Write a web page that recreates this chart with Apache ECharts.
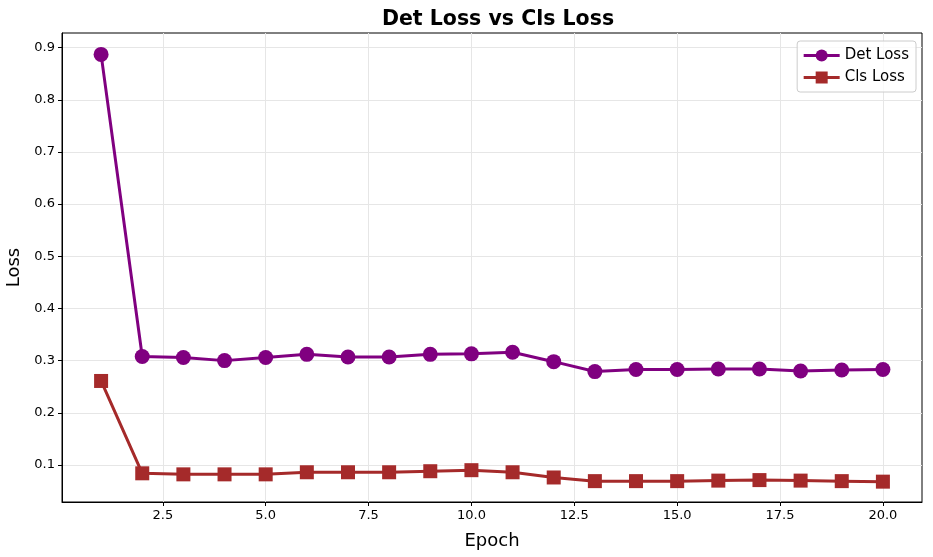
<!DOCTYPE html>
<html>
<head>
<meta charset="utf-8">
<script src="https://cdn.jsdelivr.net/npm/echarts@6/dist/echarts.min.js"></script>
<style>html,body{margin:0;padding:0;background:#fff}#c{width:933px;height:557px}</style>
</head>
<body>
<div id="c"></div>
<script>
const epochs = [1,2,3,4,5,6,7,8,9,10,11,12,13,14,15,16,17,18,19,20];
const detLoss = [0.887,0.308,0.306,0.300,0.306,0.312,0.307,0.307,0.312,0.313,0.316,0.298,0.279,0.283,0.283,0.284,0.284,0.280,0.282,0.283];
const clsLoss = [0.261,0.084,0.082,0.082,0.082,0.086,0.086,0.086,0.088,0.090,0.086,0.076,0.069,0.069,0.069,0.070,0.071,0.070,0.069,0.068];
const xTicks = [2.5,5.0,7.5,10.0,12.5,15.0,17.5,20.0];
const yTicks = [0.1,0.2,0.3,0.4,0.5,0.6,0.7,0.8,0.9];

const font = 'DejaVu Sans';
const chart = echarts.init(document.getElementById('c'), null, {renderer:'canvas'});
chart.setOption({
  animation:false,
  backgroundColor:'#fff',
  title:{text:'Det Loss vs Cls Loss',left:493,textAlign:'center',top:4,
    textStyle:{fontFamily:font,fontWeight:'bold',fontSize:20.5,color:'#000'}},
  grid:{left:62,right:11,top:33,bottom:55,show:true,borderColor:'#000',borderWidth:1,
    backgroundColor:'transparent',outerBoundsMode:'none',containLabel:false},
  legend:{right:17,top:41,orient:'vertical',itemGap:7,itemWidth:36,itemHeight:15,
    padding:[7,7,7,5],borderColor:'#ccc',borderWidth:1,borderRadius:3,backgroundColor:'rgba(255,255,255,0.8)',
    lineStyle:{width:3},
    textStyle:{fontFamily:font,fontSize:15,color:'#000'},
    data:['Det Loss','Cls Loss']},
  xAxis:{type:'value',min:0.05,max:20.95,name:'Epoch',nameLocation:'middle',nameGap:30,
    nameTextStyle:{fontFamily:font,fontSize:18,color:'#000'},
    axisLine:{show:true,lineStyle:{color:'#000',width:1}},
    axisTick:{show:true,length:4,lineStyle:{color:'#000'},customValues:xTicks},
    axisLabel:{customValues:xTicks,fontFamily:font,fontSize:13,color:'#000',margin:7,
      formatter:v=>v.toFixed(1)},
    splitLine:{show:true,customValues:xTicks,lineStyle:{color:'#e6e6e6',width:1}}},
  yAxis:{type:'value',min:0.029,max:0.928,name:'Loss',nameLocation:'middle',nameGap:33,
    nameTextStyle:{fontFamily:font,fontSize:18,color:'#000'},
    axisLine:{show:true,lineStyle:{color:'#000',width:1}},
    axisTick:{show:true,length:4,lineStyle:{color:'#000'},customValues:yTicks},
    axisLabel:{customValues:yTicks,fontFamily:font,fontSize:13,color:'#000',margin:7,
      formatter:v=>v.toFixed(1)},
    splitLine:{show:true,customValues:yTicks,lineStyle:{color:'#e6e6e6',width:1}}},
  series:[
    {name:'Det Loss',type:'line',data:epochs.map((e,i)=>[e,detLoss[i]]),
      color:'#800080',symbol:'circle',symbolSize:15,lineStyle:{width:3,color:'#800080'},
      itemStyle:{color:'#800080'}},
    {name:'Cls Loss',type:'line',data:epochs.map((e,i)=>[e,clsLoss[i]]),
      color:'#A52A2A',symbol:'rect',symbolSize:14,lineStyle:{width:3,color:'#A52A2A'},
      itemStyle:{color:'#A52A2A'}}
  ]
});
</script>
</body>
</html>
